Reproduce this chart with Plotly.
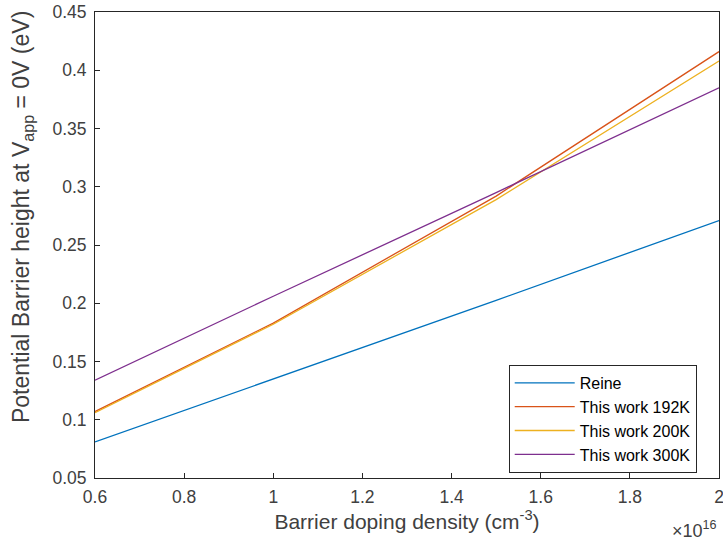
import plotly.graph_objects as go

# Barrier doping density, in units of 1e16 cm^-3
doping = [0.6, 1.0, 1.5, 2.0]

# Potential barrier height at V_app = 0 V (eV)
reine = [0.081, 0.135, 0.2025, 0.271]
work_192k = [0.107, 0.183, 0.292, 0.416]
work_200k = [0.106, 0.182, 0.289, 0.408]
work_300k = [0.134, 0.206, 0.295, 0.385]

series_names = ["Reine", "This work 192K", "This work 200K", "This work 300K"]
series_colors = ["#0072BD", "#D95319", "#EDB120", "#7E2F8E"]

x_tick_vals = [0.6, 0.8, 1.0, 1.2, 1.4, 1.6, 1.8, 2.0]
x_tick_text = ["0.6", "0.8", "1", "1.2", "1.4", "1.6", "1.8", "2"]
y_tick_vals = [0.05, 0.10, 0.15, 0.20, 0.25, 0.30, 0.35, 0.40, 0.45]
y_tick_text = ["0.05", "0.1", "0.15", "0.2", "0.25", "0.3", "0.35", "0.4", "0.45"]

x_title = "Barrier doping density (cm<sup>-3</sup>)"
y_title = "Potential Barrier height at V<sub>app</sub> = 0V (eV)"
x_exponent = "\u00d710<sup>16</sup>"

FONT = "Liberation Sans, Arial, Helvetica, sans-serif"
INK = "#262626"
TEXT = "#404040"

fig = go.Figure()
for name, color, values in zip(
    series_names, series_colors, [reine, work_192k, work_200k, work_300k]
):
    fig.add_trace(
        go.Scatter(
            x=doping,
            y=values,
            mode="lines",
            name=name,
            line=dict(color=color, width=1.3),
        )
    )

axis_common = dict(
    showline=True,
    mirror=True,
    linecolor=INK,
    linewidth=1,
    ticks="inside",
    ticklen=5,
    tickwidth=1,
    tickcolor=INK,
    showgrid=False,
    zeroline=False,
    automargin=False,
    ticklabeloverflow="allow",
    tickfont=dict(family=FONT, size=17.5, color=TEXT),
)

fig.update_layout(
    width=723,
    height=548,
    autosize=False,
    margin=dict(l=95, r=4, t=12, b=70),
    paper_bgcolor="white",
    plot_bgcolor="white",
    font=dict(family=FONT, color=TEXT),
    xaxis=dict(
        range=[0.6, 2.0],
        tickvals=x_tick_vals,
        ticktext=x_tick_text,
        ticklabelstandoff=3,
        title=dict(
            text=x_title,
            font=dict(family=FONT, size=21, color=TEXT),
            standoff=8,
        ),
        **axis_common,
    ),
    yaxis=dict(
        range=[0.05, 0.45],
        tickvals=y_tick_vals,
        ticktext=y_tick_text,
        ticklabelstandoff=4,
        **axis_common,
    ),
    legend=dict(
        x=0.663,
        y=0.2425,
        xanchor="left",
        yanchor="top",
        bgcolor="white",
        bordercolor=INK,
        borderwidth=1,
        font=dict(family=FONT, size=16, color="#000000"),
        itemwidth=60,
    ),
    showlegend=True,
)

# y-axis label, drawn slightly above the axis centre
fig.add_annotation(
    text=y_title,
    textangle=-90,
    xref="paper",
    yref="paper",
    x=-0.117,
    y=0.56,
    xanchor="center",
    yanchor="middle",
    showarrow=False,
    font=dict(family=FONT, size=23, color=TEXT),
)

# shared power-of-ten multiplier for the x axis
fig.add_annotation(
    text=x_exponent,
    xref="paper",
    yref="paper",
    x=1.0,
    y=-0.082,
    xanchor="right",
    yanchor="top",
    showarrow=False,
    font=dict(family=FONT, size=18, color=TEXT),
)

fig.write_html("out.html")
